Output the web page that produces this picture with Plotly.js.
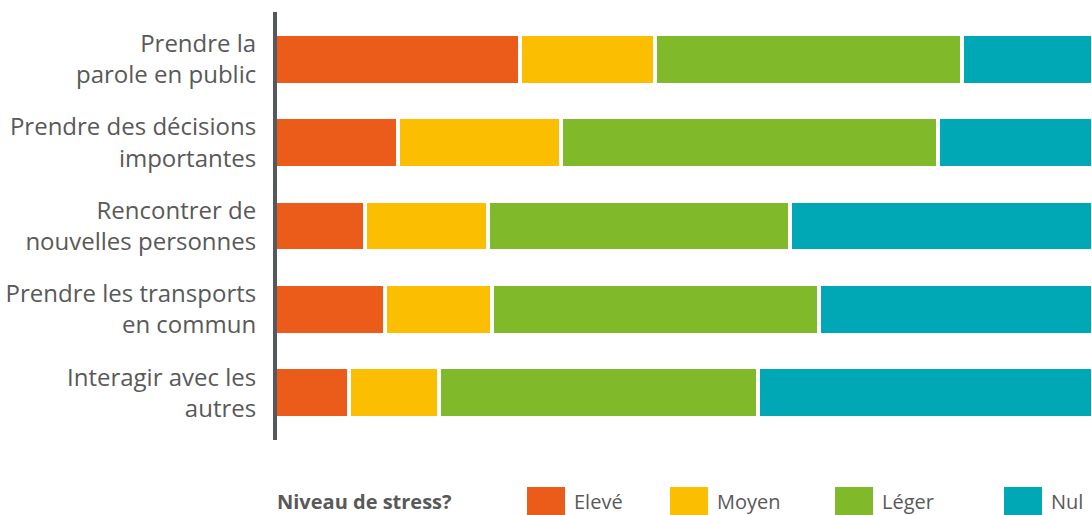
<!DOCTYPE html>
<html>
<head>
<meta charset="utf-8">
<script src="https://cdn.plot.ly/plotly-3.0.1.min.js"></script>
<style>
html,body{margin:0;padding:0;background:#fff;}
#chart{width:1092px;height:515px;}
</style>
</head>
<body>
<div id="chart"></div>
<script>
const categories = [
  "Prendre la<br>parole en public",
  "Prendre des décisions<br>importantes",
  "Rencontrer de<br>nouvelles personnes",
  "Prendre les transports<br>en commun",
  "Interagir avec les<br>autres"
];
const seriesNames = ["Elevé", "Moyen", "Léger", "Nul"];
const eleve = [30, 15, 11, 13.5, 9];
const moyen = [16.5, 20, 15, 13, 11];
const leger = [37.5, 46, 37, 40, 39];
const nul   = [16, 19, 37, 33.5, 41];
const legendTitle = "Niveau de stress?";

const colors = ["#EB5B19", "#FCBE00", "#80BA2A", "#00A8B5"];
const values = [eleve, moyen, leger, nul];
const textColor = "#595959";
const fontFamily = "'Open Sans', 'Noto Sans', sans-serif";

const traces = values.map((v, i) => ({
  type: "bar",
  orientation: "h",
  name: seriesNames[i],
  y: categories,
  x: v,
  marker: { color: colors[i], line: { color: "#ffffff", width: 4 } },
  hoverinfo: "x+name",
  showlegend: false
}));

const L = 277, R = 0, T = 12, B = 75, W = 1092, H = 515;
const pw = W - L - R, ph = H - T - B;
const px = x => (x - L) / pw;
const py = y => (H - B - y) / ph;

// custom legend (swatches + labels) built from series names / colours
const swatchX = [527, 670, 835, 1004];
const shapes = [];
const annotations = [{
  xref: "paper", yref: "paper", x: px(275), y: py(501),
  xanchor: "left", yanchor: "middle", showarrow: false,
  text: "<b>" + legendTitle + "</b>",
  font: { family: fontFamily, size: 20, color: textColor }
}];
seriesNames.forEach((n, i) => {
  shapes.push({
    type: "rect", xref: "paper", yref: "paper",
    x0: px(swatchX[i]), x1: px(swatchX[i] + 38),
    y0: py(515), y1: py(487),
    fillcolor: colors[i], line: { width: 0 }
  });
  annotations.push({
    xref: "paper", yref: "paper", x: px(swatchX[i] + 45), y: py(501),
    xanchor: "left", yanchor: "middle", showarrow: false,
    text: n,
    font: { family: fontFamily, size: 20, color: textColor }
  });
});

const layout = {
  width: W, height: H,
  margin: { l: L, r: R, t: T, b: B, pad: 0 },
  paper_bgcolor: "#ffffff", plot_bgcolor: "#ffffff",
  barmode: "stack",
  bargap: 0.39,
  showlegend: false,
  font: { family: fontFamily, color: textColor },
  xaxis: {
    range: [0.245, 99.88], showgrid: false, zeroline: false,
    showticklabels: false, showline: false, fixedrange: true
  },
  yaxis: {
    type: "category",
    range: [4.565, -0.565],
    showgrid: false, zeroline: false,
    showline: true, linecolor: "#55595F", linewidth: 4,
    ticks: "", ticklabelstandoff: 12,
    tickfont: { family: fontFamily, size: 24, color: textColor },
    fixedrange: true
  },
  shapes: shapes,
  annotations: annotations
};

Plotly.newPlot("chart", traces, layout, { displayModeBar: false, staticPlot: true });
</script>
</body>
</html>
